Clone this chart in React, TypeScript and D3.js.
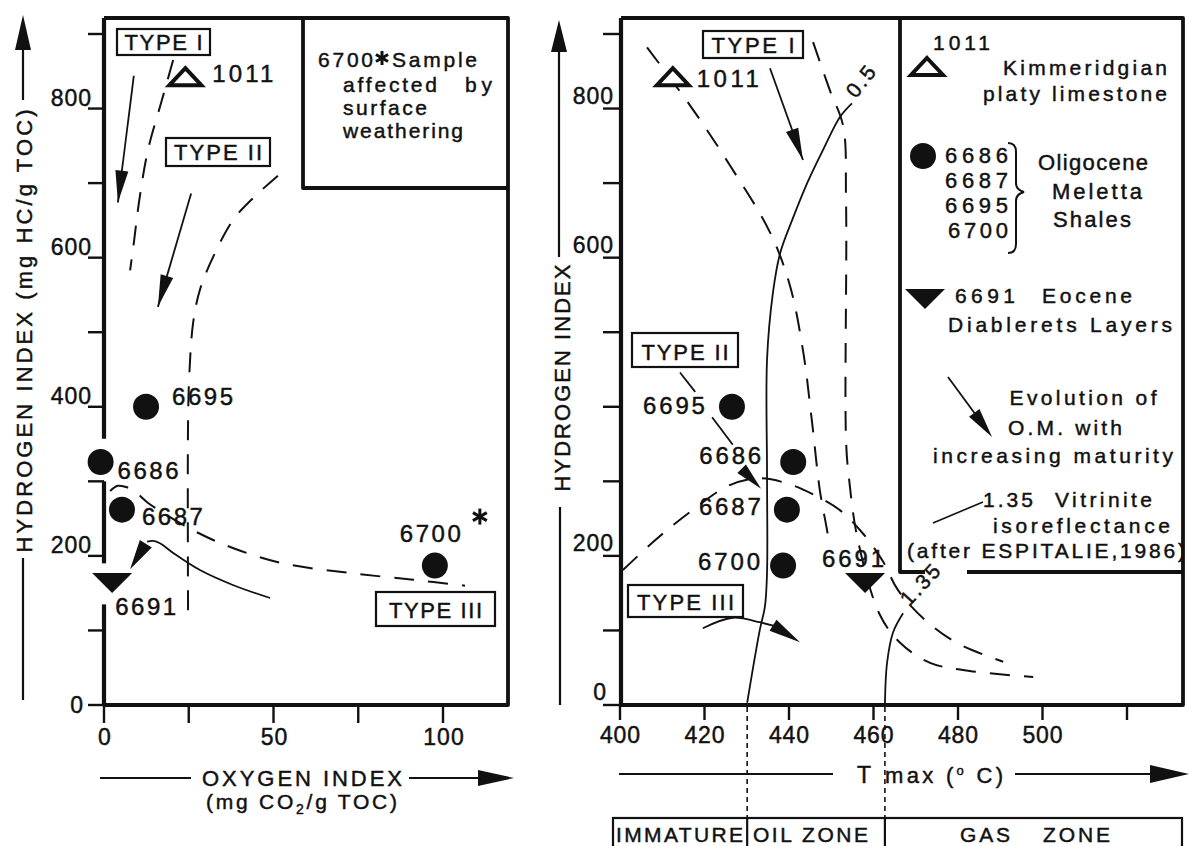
import React from 'react';
import * as d3 from 'd3';

type P = [number, number];

// ---------------- DATA ----------------
const sampleIds = ['1011', '6695', '6686', '6687', '6700', '6691'];
const sampleKinds = ['openTri', 'dot', 'dot', 'dot', 'dot', 'downTri'];
const hydrogenIndex = [842, 400, 326, 262, 187, 165];
const oxygenIndex = [24, 12.4, -1, 5.3, 97.6, 2.4];
const tmaxValues = [412.5, 426.5, 441, 439.5, 438.6, 458];

const oiTicks = [0, 25, 50, 75, 100];
const oiTickLabels = [0, 50, 100];
const hiTicks = [0, 100, 200, 300, 400, 500, 600, 700, 800, 900];
const hiTickLabelsLeft = [0, 200, 400, 600, 800];
const hiTickLabelsRight = [0, 200, 600, 800];
const tmaxTicks = [400, 420, 440, 460, 480, 500, 520];
const tmaxTickLabels = [400, 420, 440, 460, 480, 500];

// Left panel (OI, HI) evolution paths
const leftTypeIPath: P[] = [[20.4, 865], [17, 810], [13, 745], [10.5, 680], [8.8, 620], [7.7, 583]];
const leftTypeIIPath: P[] = [[51.3, 710], [44, 680], [38, 650], [32.2, 601], [28.3, 557], [26.3, 513], [25.2, 446], [24.8, 382], [24.8, 121]];
const leftTypeIIIPath: P[] = [[1.8, 287], [4.1, 294], [6.8, 292], [9.7, 284], [13, 271], [26, 235], [38, 210.6], [52.8, 190], [72.6, 177], [91.2, 168], [106.5, 160]];
const leftTypeIIICurveArrow: P[] = [[49, 143.5], [38, 161], [28.3, 181], [20.4, 204], [16.5, 217], [14.5, 220], [12.7, 219]];
const leftTypeIIICurveTip: P = [7.7, 182];
const leftTypeIArrow: P[] = [[8.8, 844], [4.1, 674]];
const leftTypeIIArrow: P[] = [[25.7, 686], [15.9, 534]];

// Right panel (Tmax, HI) evolution paths
const rightTypeIPath: P[] = [[445.7, 889], [449.7, 824], [452.8, 777], [453.5, 677], [453.5, 355], [454.2, 304], [456.3, 221], [461.5, 121], [466.3, 83.5], [473.4, 56.6], [482.8, 45.6], [497.8, 37.5]];
const rightTypeIIPath: P[] = [[406.4, 882], [416.6, 804], [426, 724], [435.5, 634], [440.2, 563], [443.3, 476], [445.4, 382], [447.3, 288], [448.8, 241], [449.3, 225]];
const rightTypeIIIPath: P[] = [[400.7, 181], [408.3, 221], [416.6, 259], [426, 295], [433.1, 304], [440.2, 296], [446.2, 281], [452.1, 261], [457.8, 228], [462.3, 192], [465.8, 154], [472.2, 114], [479.8, 83], [490.7, 58]];
const iso05Path: P[] = [[430.1, 3], [433.1, 101], [434.3, 132], [434.8, 177], [434.8, 311], [434.8, 463], [436.2, 553], [437.9, 606], [441, 654], [444.3, 700], [448, 744], [452.1, 789], [454.9, 807]];
const iso135Path: P[] = [[462.7, 0], [463.2, 56], [464.6, 97], [467, 123]];
const rightTypeIArrow: P[] = [[435.5, 854], [443.3, 731]];
const rightTypeIIArrowSegs: P[][] = [[[414.2, 446], [417.8, 420]], [[421.8, 386], [426.7, 349]]];
const rightTypeIIArrowHead: P[] = [[428.6, 318], [433.4, 290]];
const rightTypeIIICurveArrow: P[] = [[419.6, 103], [426.7, 117], [433.1, 111], [436.5, 106]];
const rightTypeIIICurveTip: P = [442.6, 84];
const zoneBounds = [430.1, 462.7];

// ---------------- LAYOUT ----------------
const FONT = "'Liberation Sans', Arial, Helvetica, sans-serif";
const INK = '#111';
const yHI = d3.scaleLinear().domain([0, 900]).range([705, 34]);
const xOI = d3.scaleLinear().domain([0, 100]).range([104, 443]);
const xT = d3.scaleLinear().domain([400, 520]).range([620, 1127]);

const leftLabelOff: Record<string, [number, number, string]> = {
  '1011': [27, 5, 'start'], '6695': [26, -2, 'start'], '6686': [17, 17, 'start'],
  '6687': [20, 15, 'start'], '6700': [-35, -24, 'start'], '6691': [3, 33, 'start'],
};
const rightLabelOff: Record<string, [number, number, string]> = {
  '1011': [24, 10, 'start'], '6695': [-27, 7, 'end'], '6686': [-32, 2, 'end'],
  '6687': [-26, 5, 'end'], '6700': [-23, 4, 'end'], '6691': [-12, -15, 'middle'],
};

function arrowHead(tip: P, from: P, len = 30, half = 6) {
  const dx = tip[0] - from[0], dy = tip[1] - from[1];
  const d = Math.hypot(dx, dy) || 1;
  const ux = dx / d, uy = dy / d;
  const bx = tip[0] - ux * len, by = tip[1] - uy * len;
  return `M${tip[0]},${tip[1]}L${bx - uy * half},${by + ux * half}L${bx + uy * half},${by - ux * half}Z`;
}

function Marker({ kind, x, y }: { kind: string; x: number; y: number }) {
  if (kind === 'dot') return <circle cx={x} cy={y} r={13} fill={INK} />;
  if (kind === 'openTri')
    return <path d={`M${x},${y - 9}L${x + 16},${y + 8}L${x - 16},${y + 8}Z`} fill="#fff" stroke={INK} strokeWidth={4} strokeLinejoin="miter" />;
  return <path d={`M${x - 20},${y - 9}L${x + 20},${y - 9}L${x},${y + 11}Z`} fill={INK} />;
}

function Asterisk({ x, y, r = 8 }: { x: number; y: number; r?: number }) {
  const a = [90, 30, 150];
  return (
    <g stroke={INK} strokeWidth={3}>
      {a.map((deg) => {
        const t = (deg * Math.PI) / 180;
        return <line key={deg} x1={x - r * Math.cos(t)} y1={y - r * Math.sin(t)} x2={x + r * Math.cos(t)} y2={y + r * Math.sin(t)} />;
      })}
    </g>
  );
}

function Txt(props: any) {
  const { children, ...rest } = props;
  return (
    <text fontFamily={FONT} fill={INK} stroke={INK} strokeWidth={0.45} fontSize={21} {...rest}>
      {children}
    </text>
  );
}

function TypeBox({ x, y, w, h, label, tl, base }: any) {
  return (
    <g>
      <rect x={x} y={y} width={w} height={h} fill="#fff" stroke={INK} strokeWidth={2.2} />
      <Txt x={x + w / 2} y={base} textAnchor="middle" fontSize={22} textLength={tl} lengthAdjust="spacing">{label}</Txt>
    </g>
  );
}

export default function App() {
  const line = d3.line<P>().curve(d3.curveCatmullRom.alpha(0.5));
  const straight = d3.line<P>();
  const L = (pts: P[]) => pts.map(([a, b]) => [xOI(a), yHI(b)] as P);
  const R = (pts: P[]) => pts.map(([a, b]) => [xT(a), yHI(b)] as P);
  const dash = { fill: 'none', stroke: INK, strokeWidth: 2, strokeDasharray: '20 14' };
  const solid = { fill: 'none', stroke: INK, strokeWidth: 1.8 };

  const lTI = L(leftTypeIArrow);
  const lTII = L(leftTypeIIArrow);
  const lTIIIc = L(leftTypeIIICurveArrow);
  const lTIIItip = L([leftTypeIIICurveTip])[0];
  const rTI = R(rightTypeIArrow);
  const rTIIhead = R(rightTypeIIArrowHead);
  const rTIIIc = R(rightTypeIIICurveArrow);
  const rTIIItip = R([rightTypeIIICurveTip])[0];

  const axisGaps: P[] = [[900, 357], [300, 190], [135, 0]];

  return (
    <svg width={1189} height={846} style={{ position: 'absolute', left: 0, top: 0, background: '#fff' }}>
      <rect x={0} y={0} width={1189} height={846} fill="#fff" />

      {/* ================= LEFT PANEL ================= */}
      <path d="M104,18L508,18L508,705L104,705" fill="none" stroke={INK} strokeWidth={3.8} strokeLinejoin="round" />
      <path d="M303,18L303,188L508,188" fill="none" stroke={INK} strokeWidth={3.8} strokeLinejoin="round" />
      {axisGaps.map(([a, b], i) => (
        <line key={i} x1={104} x2={104} y1={i === 0 ? 18 : yHI(a)} y2={yHI(b)} stroke={INK} strokeWidth={4.2} />
      ))}
      {hiTicks.map((t) => (
        <line key={t} x1={88} x2={104} y1={yHI(t)} y2={yHI(t)} stroke={INK} strokeWidth={2.4} />
      ))}
      {hiTickLabelsLeft.map((t) => (
        <Txt key={t} x={t === 0 ? 84 : 92} y={t === 0 ? yHI(t) + 8 : yHI(t) - 3} textAnchor="end" fontSize={23} letterSpacing={1}>{t}</Txt>
      ))}
      {oiTicks.map((t) => (
        <line key={t} x1={xOI(t)} x2={xOI(t)} y1={705} y2={723} stroke={INK} strokeWidth={2.4} />
      ))}
      {oiTickLabels.map((t) => (
        <Txt key={t} x={xOI(t) + 1} y={745} textAnchor="middle" fontSize={23} letterSpacing={1}>{t}</Txt>
      ))}
      {/* axis titles */}
      <line x1={23} x2={23} y1={100} y2={44} stroke={INK} strokeWidth={2.2} />
      <path d="M23,15L31,50L15,50Z" fill={INK} />
      <line x1={23} x2={23} y1={558} y2={700} stroke={INK} strokeWidth={2.2} />
      <Txt x={0} y={0} transform="translate(32,331) rotate(-90)" textAnchor="middle" fontSize={22} textLength={443} lengthAdjust="spacing">HYDROGEN INDEX (mg HC/g TOC)</Txt>
      <line x1={100} x2={191} y1={778} y2={778} stroke={INK} strokeWidth={2.2} />
      <line x1={409} x2={482} y1={778} y2={778} stroke={INK} strokeWidth={2.2} />
      <path d="M514,778L478,770L478,786Z" fill={INK} />
      <Txt x={302} y={786} textAnchor="middle" fontSize={22} textLength={200} lengthAdjust="spacing">OXYGEN INDEX</Txt>
      <Txt x={206} y={809} textLength={191} lengthAdjust="spacing">(mg CO<tspan fontSize={14} dy={5}>2</tspan><tspan dy={-5}>/g TOC)</tspan></Txt>

      {/* inset legend */}
      <Txt x={318} y={67} textLength={55} lengthAdjust="spacing">6700</Txt>
      <Asterisk x={382} y={58} r={7} />
      <Txt x={392} y={67} textLength={85} lengthAdjust="spacing">Sample</Txt>
      <Txt x={343} y={92} textLength={94} lengthAdjust="spacing">affected</Txt>
      <Txt x={465} y={92} textLength={27} lengthAdjust="spacing">by</Txt>
      <Txt x={343} y={115} textLength={84} lengthAdjust="spacing">surface</Txt>
      <Txt x={343} y={138} textLength={120} lengthAdjust="spacing">weathering</Txt>

      {/* paths */}
      <path d={line(L(leftTypeIPath)) || ''} {...dash} />
      <path d={line(L(leftTypeIIPath)) || ''} {...dash} />
      <path d={line(L(leftTypeIIIPath)) || ''} {...dash} />
      <path d={line(lTIIIc) || ''} {...solid} />
      <path d={arrowHead(lTIIItip, lTIIIc[lTIIIc.length - 1], 30, 7)} fill={INK} />
      <path d={straight(lTI) || ''} {...solid} />
      <path d={arrowHead(lTI[1], lTI[0], 32, 6.5)} fill={INK} />
      <path d={straight(lTII) || ''} {...solid} />
      <path d={arrowHead(lTII[1], lTII[0], 32, 6.5)} fill={INK} />

      <TypeBox x={117} y={29} w={93} h={26} label="TYPE I" tl={78} base={50} />
      <TypeBox x={166} y={138} w={104} h={28} label="TYPE II" tl={88} base={160} />
      <TypeBox x={376} y={592} w={119} h={34} label="TYPE III" tl={93} base={618} />

      {/* samples */}
      {sampleIds.map((id, i) => {
        const x = xOI(oxygenIndex[i]);
        const y = yHI(hydrogenIndex[i]);
        const [dx, dy, anchor] = leftLabelOff[id];
        return (
          <g key={id}>
            <Marker kind={sampleKinds[i]} x={x} y={y} />
            <Txt x={x + dx} y={y + dy} fontSize={24} textAnchor={anchor} textLength={61} lengthAdjust="spacing">{id}</Txt>
          </g>
        );
      })}
      <Asterisk x={xOI(oxygenIndex[4]) + 45} y={yHI(hydrogenIndex[4]) - 49} r={8} />

      {/* ================= RIGHT PANEL ================= */}
      <path d="M621,18L1183,18L1183,705L620,705" fill="none" stroke={INK} strokeWidth={3.8} strokeLinejoin="round" />
      <line x1={621} x2={621} y1={18} y2={705} stroke={INK} strokeWidth={4.2} />
      <path d="M900,18L900,572L925,572" fill="none" stroke={INK} strokeWidth={3.8} strokeLinejoin="round" />
      <line x1={967} x2={1183} y1={572} y2={572} stroke={INK} strokeWidth={3.8} />
      {hiTicks.map((t) => (
        <line key={t} x1={603} x2={621} y1={yHI(t)} y2={yHI(t)} stroke={INK} strokeWidth={2.4} />
      ))}
      {hiTickLabelsRight.map((t) => (
        <Txt key={t} x={t === 0 ? 607 : 614} y={yHI(t) - 5} textAnchor="end" fontSize={23} letterSpacing={1}>{t}</Txt>
      ))}
      {tmaxTicks.map((t) => (
        <line key={t} x1={xT(t)} x2={xT(t)} y1={705} y2={720} stroke={INK} strokeWidth={2.4} />
      ))}
      {tmaxTickLabels.map((t) => (
        <Txt key={t} x={xT(t)} y={743} textAnchor="middle" fontSize={23} textLength={40} lengthAdjust="spacing">{t}</Txt>
      ))}
      {/* axis titles */}
      <line x1={559} x2={559} y1={257} y2={48} stroke={INK} strokeWidth={2.2} />
      <path d="M559,20L567,52L551,52Z" fill={INK} />
      <line x1={560} x2={560} y1={507} y2={705} stroke={INK} strokeWidth={2.2} />
      <Txt x={0} y={0} transform="translate(570,378) rotate(-90)" textAnchor="middle" fontSize={22} textLength={227} lengthAdjust="spacing">HYDROGEN INDEX</Txt>
      <line x1={619} x2={833} y1={774} y2={774} stroke={INK} strokeWidth={2.2} />
      <line x1={1015} x2={1155} y1={774} y2={774} stroke={INK} strokeWidth={2.2} />
      <path d="M1189,774L1150,765L1150,783Z" fill={INK} />
      <Txt x={864} y={783} textAnchor="middle" fontSize={23}>T</Txt>
      <Txt x={885} y={783} fontSize={22} textLength={118} lengthAdjust="spacing">max (<tspan fontSize={13} dy={-8}>o</tspan><tspan dy={8}> C)</tspan></Txt>

      {/* zones */}
      {zoneBounds.map((z) => (
        <line key={z} x1={xT(z)} x2={xT(z)} y1={707} y2={818} stroke={INK} strokeWidth={1.6} strokeDasharray="5 4" />
      ))}
      <rect x={613} y={818} width={569} height={60} fill="none" stroke={INK} strokeWidth={2.2} />
      {zoneBounds.map((z) => (
        <line key={'d' + z} x1={xT(z)} x2={xT(z)} y1={818} y2={846} stroke={INK} strokeWidth={2.2} />
      ))}
      <Txt x={616} y={842} fontSize={21} textLength={127} lengthAdjust="spacing">IMMATURE</Txt>
      <Txt x={753} y={842} fontSize={21} textLength={115} lengthAdjust="spacing">OIL ZONE</Txt>
      <Txt x={960} y={842} fontSize={21} textLength={50} lengthAdjust="spacing">GAS</Txt>
      <Txt x={1043} y={842} fontSize={21} textLength={67} lengthAdjust="spacing">ZONE</Txt>

      {/* paths */}
      <path d={line(R(rightTypeIPath)) || ''} {...dash} />
      <path d={line(R(rightTypeIIPath)) || ''} {...dash} />
      <path d={line(R(rightTypeIIIPath)) || ''} {...dash} />
      <path d={line(R(iso05Path)) || ''} {...solid} />
      <path d={line(R(iso135Path)) || ''} {...solid} />
      <Txt x={0} y={0} transform={`translate(${xT(iso05Path[iso05Path.length - 1][0]) + 4},${yHI(iso05Path[iso05Path.length - 1][1]) - 4}) rotate(-52)`} textLength={34} lengthAdjust="spacing">0.5</Txt>
      <Txt x={0} y={0} transform={`translate(${xT(iso135Path[iso135Path.length - 1][0]) + 6},${yHI(iso135Path[iso135Path.length - 1][1]) - 6}) rotate(-47)`} textLength={48} lengthAdjust="spacing">1.35</Txt>

      <path d={straight(rTI) || ''} {...solid} />
      <path d={arrowHead(rTI[1], rTI[0], 32, 6.5)} fill={INK} />
      {rightTypeIIArrowSegs.map((s, i) => (
        <path key={i} d={straight(R(s)) || ''} {...solid} />
      ))}
      <path d={arrowHead(rTIIhead[1], rTIIhead[0], 28, 6)} fill={INK} />
      <path d={line(rTIIIc) || ''} {...solid} />
      <path d={arrowHead(rTIIItip, rTIIIc[rTIIIc.length - 1], 32, 6.5)} fill={INK} />

      <TypeBox x={703} y={31} w={100} h={27} label="TYPE I" tl={83} base={53} />
      <TypeBox x={632} y={333} w={106} h={34} label="TYPE II" tl={87} base={360} />
      <TypeBox x={628} y={585} w={115} h={32} label="TYPE III" tl={97} base={610} />

      {sampleIds.map((id, i) => {
        const x = xT(tmaxValues[i]);
        const y = yHI(hydrogenIndex[i]);
        const [dx, dy, anchor] = rightLabelOff[id];
        return (
          <g key={id}>
            <Marker kind={sampleKinds[i]} x={x} y={y} />
            <Txt x={x + dx} y={y + dy} fontSize={24} textAnchor={anchor} textLength={62} lengthAdjust="spacing">{id}</Txt>
          </g>
        );
      })}

      {/* legend */}
      <Txt x={933} y={50} textLength={57} lengthAdjust="spacing">1011</Txt>
      <Marker kind="openTri" x={927} y={67} />
      <Txt x={1167} y={75} textAnchor="end" textLength={164} lengthAdjust="spacing">Kimmeridgian</Txt>
      <Txt x={1167} y={101} textAnchor="end" textLength={184} lengthAdjust="spacing">platy limestone</Txt>
      <Marker kind="dot" x={923} y={156} />
      <Txt x={945} y={163} fontSize={22} textLength={63} lengthAdjust="spacing">6686</Txt>
      <Txt x={945} y={188} fontSize={22} textLength={63} lengthAdjust="spacing">6687</Txt>
      <Txt x={945} y={213} fontSize={22} textLength={63} lengthAdjust="spacing">6695</Txt>
      <Txt x={948} y={238} fontSize={22} textLength={60} lengthAdjust="spacing">6700</Txt>
      <path d="M1008,143Q1016,143 1016,152L1016,183Q1016,190 1024,192Q1016,194 1016,201L1016,244Q1016,253 1008,253" fill="none" stroke={INK} strokeWidth={2} />
      <Txt x={1093} y={170} textAnchor="middle" fontSize={22} textLength={110} lengthAdjust="spacing">Oligocene</Txt>
      <Txt x={1097} y={199} textAnchor="middle" fontSize={22} textLength={90} lengthAdjust="spacing">Meletta</Txt>
      <Txt x={1092} y={227} textAnchor="middle" fontSize={22} textLength={78} lengthAdjust="spacing">Shales</Txt>
      <Marker kind="downTri" x={925} y={298} />
      <Txt x={955} y={303} textLength={60} lengthAdjust="spacing">6691</Txt>
      <Txt x={1042} y={303} textLength={90} lengthAdjust="spacing">Eocene</Txt>
      <Txt x={948} y={332} textLength={224} lengthAdjust="spacing">Diablerets Layers</Txt>
      <line x1={948} y1={377} x2={984} y2={426} stroke={INK} strokeWidth={1.8} />
      <path d={arrowHead([992, 437], [948, 377], 30, 6.5)} fill={INK} />
      <Txt x={1083} y={405} textAnchor="middle" textLength={147} lengthAdjust="spacing">Evolution of</Txt>
      <Txt x={1065} y={435} textAnchor="middle" textLength={114} lengthAdjust="spacing">O.M. with</Txt>
      <Txt x={1053} y={463} textAnchor="middle" textLength={240} lengthAdjust="spacing">increasing maturity</Txt>
      <line x1={933} y1={523} x2={983} y2={502} stroke={INK} strokeWidth={1.6} />
      <Txt x={983} y={507} textLength={50} lengthAdjust="spacing">1.35</Txt>
      <Txt x={1055} y={507} textLength={97} lengthAdjust="spacing">Vitrinite</Txt>
      <Txt x={993} y={533} textLength={177} lengthAdjust="spacing">isoreflectance</Txt>
      <Txt x={907} y={558} textLength={278} lengthAdjust="spacing">(after ESPITALIE,1986)</Txt>
    </svg>
  );
}
